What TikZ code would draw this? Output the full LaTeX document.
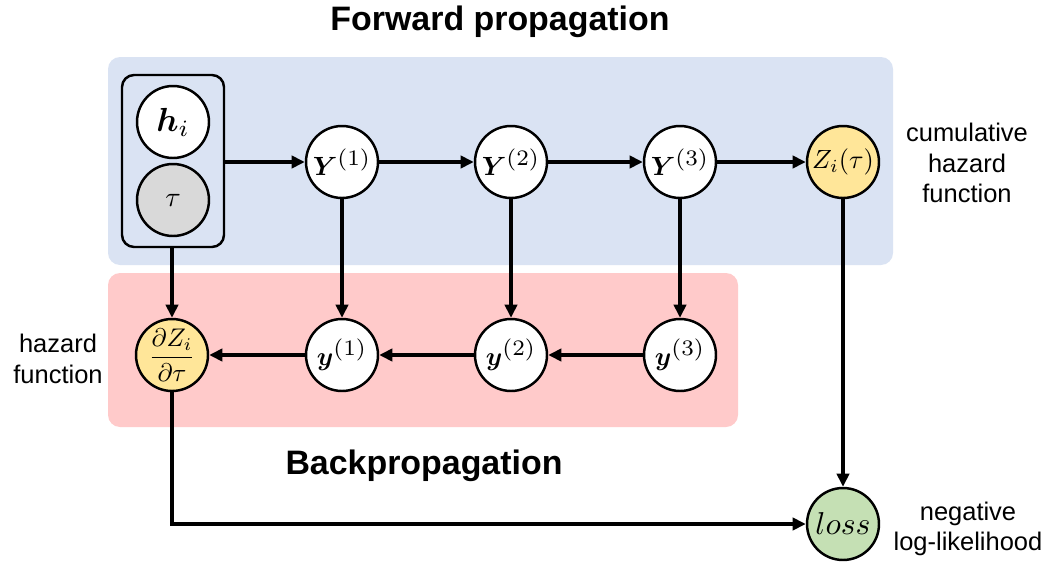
\documentclass[tikz,border=0pt]{standalone}
\usepackage{amsmath,bm}
\usepackage{fontspec}
\setmainfont{Liberation Sans}
\usetikzlibrary{arrows.meta}
\definecolor{fwdbg}{HTML}{DAE3F3}
\definecolor{bwdbg}{HTML}{FFCACA}
\definecolor{hazfill}{HTML}{FFE699}
\definecolor{lossfill}{HTML}{C5E0B4}
\definecolor{obsfill}{HTML}{D9D9D9}
% enlarged math for the variable circles
\newcommand{\mv}[2][1.5]{\scalebox{#1}{$#2$}}
% layer index, set a little larger than a plain superscript
\newcommand{\lay}[1]{^{\scalebox{1.2}{$\scriptstyle(#1)$}}}
\tikzset{
  var/.style={circle, draw=black, line width=1.4pt, fill=white, minimum size=1.44cm, inner sep=0pt},
  flow/.style={line width=2.1pt, -{Triangle[length=7.5pt,width=7pt]}},
  note/.style={align=center, font=\fontsize{14.5}{17.5}\selectfont},
  heading/.style={font=\fontsize{19.3}{23}\selectfont\bfseries}
}
\begin{document}
\begin{tikzpicture}[x=0.02cm,y=-0.02cm]
\useasboundingbox (0,0) rectangle (1042,568);
% shaded panels
\fill[fwdbg, rounded corners=0.24cm] (108,57) rectangle (893,265);
\fill[bwdbg, rounded corners=0.24cm] (108,273) rectangle (738,427);
\node[heading] (fwdtitle) at (500,22) {Forward propagation};
\node[heading] (bwdtitle) at (424,466) {Backpropagation};
% input group
\node[draw=black, line width=1.4pt, rounded corners=0.24cm, minimum width=2.04cm, minimum height=3.44cm] (inp) at (173,161) {};
\node[var] (h) at (173,122) {\mv[1.9]{\bm{h}_i}};
\node[var, fill=obsfill] (tau) at (173,200) {\mv[1.6]{\tau}};
% forward chain
\node[var] (Y1) at (342,162) {\mv{\bm{Y}\lay{1}}};
\node[var] (Y2) at (511,162) {\mv{\bm{Y}\lay{2}}};
\node[var] (Y3) at (680,162) {\mv{\bm{Y}\lay{3}}};
\node[var, fill=hazfill] (Z) at (843,162) {\mv{Z_i(\tau)}};
% backward chain
\node[var] (y1) at (342,355) {\mv{\bm{y}\lay{1}}};
\node[var] (y2) at (511,355) {\mv{\bm{y}\lay{2}}};
\node[var] (y3) at (680,355) {\mv{\bm{y}\lay{3}}};
\node[var, fill=hazfill] (dZ) at (172,355) {\mv[1.45]{\dfrac{\partial Z_i}{\partial\tau}}};
\node[var, fill=lossfill] (loss) at (843,524) {\mv[1.8]{loss}};
% side notes
\node[note] (cumnote) at (967,163) {cumulative\\hazard\\function};
\node[note] (haznote) at (58,359) {hazard\\function};
\node[note] (lossnote) at (968,529) {negative\\log-likelihood};
% connectors
\draw[flow] (inp.east |- Y1) -- (Y1);
\draw[flow] (Y1) -- (Y2);
\draw[flow] (Y2) -- (Y3);
\draw[flow] (Y3) -- (Z);
\draw[flow] (Y1) -- (y1);
\draw[flow] (Y2) -- (y2);
\draw[flow] (Y3) -- (y3);
\draw[flow] (y3) -- (y2);
\draw[flow] (y2) -- (y1);
\draw[flow] (y1) -- (dZ);
\draw[flow] (inp.south -| dZ) -- (dZ);
\draw[flow] (Z) -- (loss);
\draw[flow] (dZ) |- (loss);
\end{tikzpicture}
\end{document}
